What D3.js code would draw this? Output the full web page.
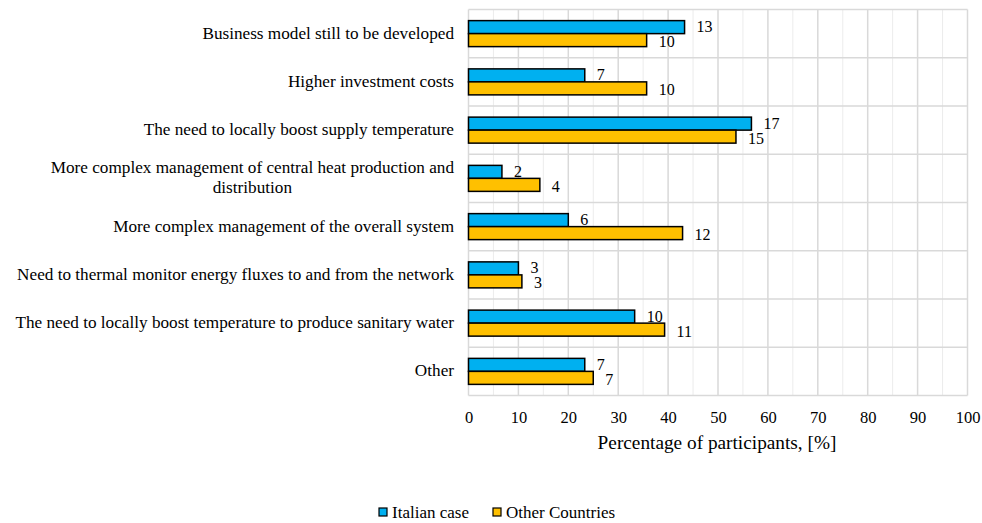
<!DOCTYPE html>
<html>
<head>
<meta charset="utf-8">
<script src="https://cdn.jsdelivr.net/npm/d3@7"></script>
<style>
  html, body { margin: 0; padding: 0; background: #fff; }
  svg { display: block; }
  text { font-family: "Liberation Serif", "Times New Roman", serif; fill: #000; }
</style>
</head>
<body>
<svg id="chart" width="982" height="523"></svg>
<script>
const categories = [
  "Business model still to be developed",
  "Higher investment costs",
  "The need to locally boost supply temperature",
  "More complex management of central heat production and|distribution",
  "More complex management of the overall system",
  "Need to thermal monitor energy fluxes to and from the network",
  "The need to locally boost temperature to produce sanitary water",
  "Other"
];
const seriesNames = ["Italian case", "Other Countries"];
const italianPct = [43.3, 23.3, 56.7, 6.7, 20.0, 10.0, 33.3, 23.3];
const otherPct   = [35.7, 35.7, 53.6, 14.3, 42.9, 10.7, 39.3, 25.0];
const italianCount = [13, 7, 17, 2, 6, 3, 10, 7];
const otherCount   = [10, 10, 15, 4, 12, 3, 11, 7];
const xTicks = [0, 10, 20, 30, 40, 50, 60, 70, 80, 90, 100];
const minorTicks = [5, 15, 25, 35, 45, 55, 65, 75, 85, 95];
const colors = ["#00b0f0", "#ffc000"];

const svg = d3.select("#chart");
const m = { left: 468.5, right: 967.5, top: 9.5, bottom: 395.5 };

const x = d3.scaleLinear().domain([0, 100]).range([m.left, m.right]);
const y = d3.scaleBand().domain(categories).range([m.top, m.bottom]).paddingInner(0).paddingOuter(0);
const barH = 13;

// minor gridlines
svg.append("g").selectAll("line").data(minorTicks).join("line")
  .attr("x1", d => x(d)).attr("x2", d => x(d))
  .attr("y1", m.top).attr("y2", m.bottom)
  .attr("stroke", "#ececec").attr("stroke-width", 1);

// major vertical gridlines
svg.append("g").selectAll("line").data(xTicks).join("line")
  .attr("x1", d => x(d)).attr("x2", d => x(d))
  .attr("y1", m.top).attr("y2", m.bottom)
  .attr("stroke", "#d9d9d9").attr("stroke-width", 1.5);

// horizontal category separators
const hLines = categories.map(c => y(c)).concat([m.bottom]);
svg.append("g").selectAll("line").data(hLines).join("line")
  .attr("x1", m.left).attr("x2", m.right)
  .attr("y1", d => d).attr("y2", d => d)
  .attr("stroke", "#d9d9d9").attr("stroke-width", 1.5);

// bars
const data = categories.map((c, i) => ({ c, v: [italianPct[i], otherPct[i]], n: [italianCount[i], otherCount[i]] }));
const groups = svg.append("g").selectAll("g").data(data).join("g");
[0, 1].forEach(s => {
  groups.append("rect")
    .attr("x", x(0))
    .attr("y", d => y(d.c) + y.bandwidth() / 2 - barH + s * barH)
    .attr("width", d => x(d.v[s]) - x(0))
    .attr("height", barH)
    .attr("fill", colors[s])
    .attr("stroke", "#000").attr("stroke-width", 1.5);
  groups.append("text")
    .attr("x", d => x(d.v[s]) + 12)
    .attr("y", d => y(d.c) + y.bandwidth() / 2 - barH + s * barH + barH / 2 + (s === 0 ? -0.5 : 1.5))
    .attr("dy", "0.35em")
    .attr("font-size", 16)
    .text(d => d.n[s]);
});

// category labels
const labelRight = 454;
categories.forEach(c => {
  const lines = c.split("|");
  const cy = y(c) + y.bandwidth() / 2;
  const lh = 20;
  const g = svg.append("g");
  const texts = lines.map((ln, k) => g.append("text")
    .attr("font-size", 17.2)
    .attr("y", cy + (k - (lines.length - 1) / 2) * lh - 1)
    .attr("dy", "0.35em")
    .text(ln));
  if (lines.length === 1) {
    texts[0].attr("x", labelRight).attr("text-anchor", "end");
  } else {
    const maxW = d3.max(texts, t => t.node().getComputedTextLength());
    texts.forEach(t => t.attr("x", labelRight - maxW / 2).attr("text-anchor", "middle"));
  }
});

// x axis
const xAxis = d3.axisBottom(x).tickValues(xTicks).tickSize(0).tickPadding(0);
const ax = svg.append("g").attr("transform", `translate(0,${m.bottom})`).call(xAxis);
ax.select(".domain").remove();
ax.selectAll("text")
  .attr("font-family", "Liberation Serif, Times New Roman, serif")
  .attr("font-size", 16.5).attr("fill", "#000").attr("y", 22).attr("dy", "0.35em");

svg.append("text")
  .attr("x", 717).attr("y", 442).attr("dy", "0.35em")
  .attr("text-anchor", "middle").attr("font-size", 19.3)
  .text("Percentage of participants, [%]");

// legend
const legendX = [379, 493];
seriesNames.forEach((s, i) => {
  svg.append("rect")
    .attr("x", legendX[i]).attr("y", 508).attr("width", 8).attr("height", 8)
    .attr("fill", colors[i]).attr("stroke", "#000").attr("stroke-width", 1.2);
  svg.append("text")
    .attr("x", legendX[i] + 13).attr("y", 512).attr("dy", "0.35em")
    .attr("font-size", 17).text(s);
});
</script>
</body>
</html>
